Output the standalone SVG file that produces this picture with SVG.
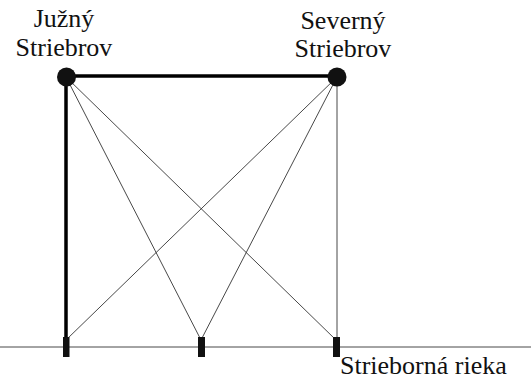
<svg xmlns="http://www.w3.org/2000/svg" width="531" height="378" viewBox="0 0 531 378">
<style>
.lbl{font-size:26px;fill:#111;text-anchor:middle}
.thin{stroke:#333;stroke-width:0.9;fill:none}
.thick{stroke:#000;stroke-width:3.5;fill:none}
.post{fill:#111}
.city{fill:#111}
</style>
<rect width="531" height="378" fill="#fff"/>
<g id="connectors">
<line class="thin" x1="0" y1="347" x2="531" y2="347"/>
<line class="thin" x1="66" y1="77" x2="201" y2="340"/>
<line class="thin" x1="66" y1="77" x2="336" y2="340"/>
<line class="thin" x1="337" y1="77" x2="66" y2="340"/>
<line class="thin" x1="337" y1="77" x2="201" y2="340"/>
<line class="thin" x1="337" y1="77" x2="337" y2="340"/>
<line class="thick" x1="66" y1="77" x2="66" y2="340"/>
<line class="thick" x1="66" y1="76" x2="337" y2="76"/>
</g>
<g font-family="'Liberation Serif', 'Times New Roman', 'DejaVu Serif', serif">
<g id="juzny">
<circle class="city" cx="66.5" cy="77" r="9.5"/>
<text class="lbl" x="64" y="27">Južný</text>
<text class="lbl" x="64" y="56">Striebrov</text>
</g>
<g id="severny">
<circle class="city" cx="337" cy="77" r="9.5"/>
<text class="lbl" x="343" y="29">Severný</text>
<text class="lbl" x="343" y="57">Striebrov</text>
</g>
<g id="rieka">
<text class="lbl" x="340" y="374" style="text-anchor:start">Strieborná rieka</text>
</g>
</g>
<g id="post1"><rect class="post" x="63" y="337" width="6.5" height="20"/></g>
<g id="post2"><rect class="post" x="198" y="337" width="7" height="20"/></g>
<g id="post3"><rect class="post" x="333" y="337" width="7" height="20"/></g>
</svg>
